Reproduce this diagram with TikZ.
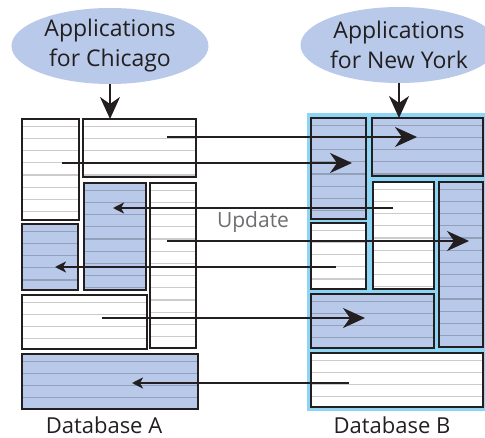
\documentclass[tikz,border=0pt]{standalone}
\usepackage{fontspec}
\setmainfont{Open Sans}
\usetikzlibrary{arrows.meta,shapes.geometric}
\definecolor{slabblue}{RGB}{184,201,233}
\definecolor{linkcyan}{RGB}{140,213,245}
\definecolor{ink}{RGB}{35,31,32}
\definecolor{updgray}{RGB}{109,110,113}

\begin{document}
\begin{tikzpicture}[x=1bp,y=-1bp,
    stripe/.style={black,opacity=0.2,line width=1.3bp},
    slab/.style={draw=ink,line width=2.4bp,inner sep=0pt,outer sep=0pt,anchor=north west,
      path picture={\foreach \k in {1,...,26}{
        \draw[stripe] ([yshift={-\k*12.2bp+5bp}]path picture bounding box.north west)
          -- ([yshift={-\k*12.2bp+5bp}]path picture bounding box.north east);}}},
    white slab/.style={slab,fill=white},
    blue slab/.style={slab,fill=slabblue},
    apps/.style={ellipse,fill=slabblue,minimum width=197bp,minimum height=76bp,inner sep=0pt,
      align=center,text=ink,font=\fontsize{23bp}{30bp}\selectfont},
    dblabel/.style={text=ink,inner sep=1bp,font=\fontsize{22bp}{25bp}\selectfont},
    fwd/.style={ink,line width=2bp,-{Stealth[length=22bp,width=20bp,inset=7bp]}},
    back/.style={ink,line width=2bp,-{Stealth[length=11bp,width=11bp,inset=3bp]}}]
    \useasboundingbox (0,0) rectangle (485,438);

    % applications
    \node[apps] (chicago) at (110,46) {Applications\\for Chicago};
    \node[apps] (newyork) at (399,45) {Applications\\for New York};

    % database A
    \node[white slab,minimum width=57bp,minimum height=101bp] (A1) at (22,119) {};
    \node[white slab,minimum width=113bp,minimum height=58bp] (A2) at (83,119) {};
    \node[blue slab,minimum width=62bp,minimum height=107bp] (A3) at (84,183) {};
    \node[white slab,minimum width=46bp,minimum height=165bp] (A4) at (150,183) {};
    \node[blue slab,minimum width=56bp,minimum height=66bp] (A5) at (22,224) {};
    \node[white slab,minimum width=125bp,minimum height=54bp] (A6) at (22,295) {};
    \node[blue slab,minimum width=176bp,minimum height=55bp] (A7) at (22,354) {};

    % database B
    \fill[linkcyan] (307,113) rectangle (488,411);
    \node[blue slab,minimum width=55bp,minimum height=101bp] (B1) at (311,118) {};
    \node[blue slab,minimum width=111bp,minimum height=58bp] (B2) at (372,118) {};
    \node[white slab,minimum width=61bp,minimum height=107bp] (B3) at (373,182) {};
    \node[blue slab,minimum width=44bp,minimum height=165bp] (B4) at (439,182) {};
    \node[white slab,minimum width=55bp,minimum height=66bp] (B5) at (311,223) {};
    \node[blue slab,minimum width=123bp,minimum height=54bp] (B6) at (311,294) {};
    \node[white slab,minimum width=172bp,minimum height=54bp] (B7) at (311,353) {};

    \node[dblabel] (dbA) at (104,425) {Database A};
    \node[dblabel] (dbB) at (392,425) {Database B};
    \node[text=updgray,font=\fontsize{21bp}{25bp}\selectfont] (upd) at (253,222) {Update};

    % arrow ends inside the slabs
    \coordinate (a2in) at (167,137);  \coordinate (b2in) at (417,137);
    \coordinate (a1in) at (62,163);   \coordinate (b1in) at (352,163);
    \coordinate (b3in) at (393,208);  \coordinate (a3in) at (113,208);
    \coordinate (a4in) at (167,241);  \coordinate (b4in) at (469,241);
    \coordinate (b5in) at (336,267);  \coordinate (a5in) at (55,267);
    \coordinate (a6in) at (102,318);  \coordinate (b6in) at (365,318);
    \coordinate (b7in) at (349,383);  \coordinate (a7in) at (132,383);

    \draw[fwd] (chicago.south) -- (chicago.south |- A2.north);
    \draw[fwd] (newyork.south) -- (newyork.south |- B2.north);
    \draw[fwd] (a2in) -- (b2in);
    \draw[fwd] (a1in) -- (b1in);
    \draw[back] (b3in) -- (a3in);
    \draw[fwd] (a4in) -- (b4in);
    \draw[back] (b5in) -- (a5in);
    \draw[fwd] (a6in) -- (b6in);
    \draw[back] (b7in) -- (a7in);
\end{tikzpicture}
\end{document}
